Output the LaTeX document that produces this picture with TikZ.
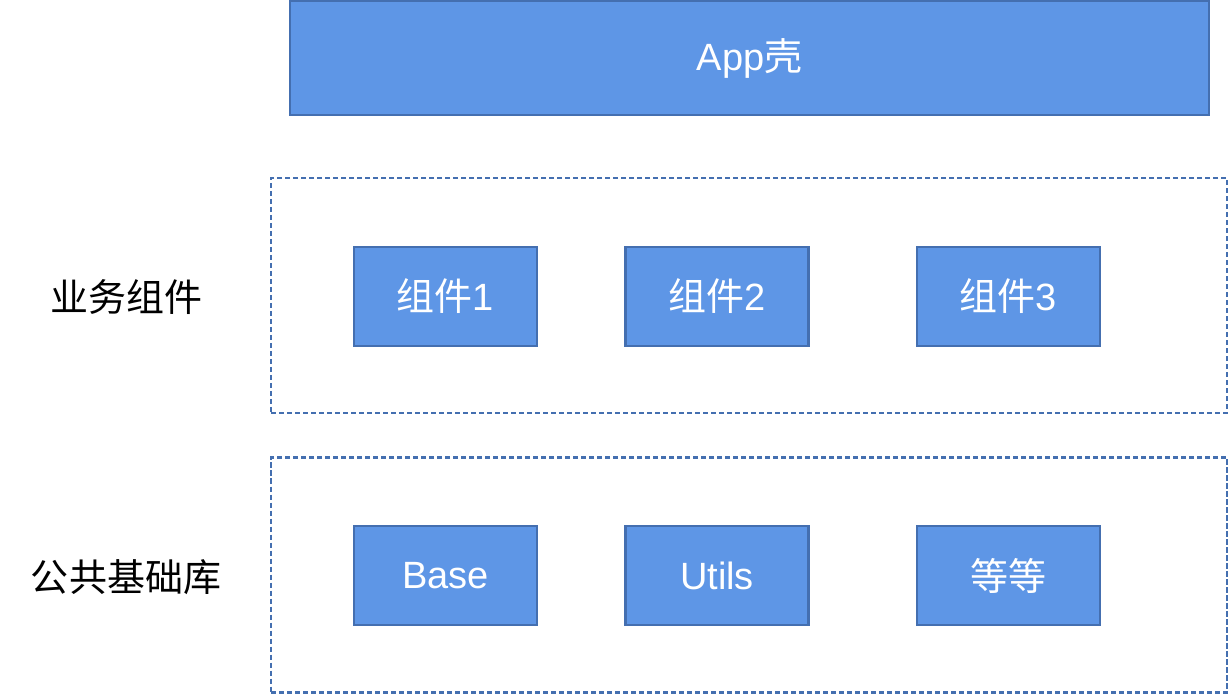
\documentclass[tikz,border=0pt]{standalone}
\usepackage{fontspec}
\setmainfont{Liberation Sans}
\newfontfamily\cjk{Noto Sans CJK SC}
\definecolor{boxfill}{RGB}{94,150,230}
\definecolor{boxline}{RGB}{68,111,176}
\begin{document}
\begin{tikzpicture}[x=0.5pt, y=-0.5pt,
  block/.style={draw=boxline, fill=boxfill, line width=1.1pt, text=white,
    font=\fontsize{19}{21}\selectfont, minimum width=91.5pt, minimum height=49.5pt},
  layer/.style={draw=boxline, line width=1.1pt, dash pattern=on 2.6pt off 1.4pt,
    minimum width=478pt, minimum height=117.5pt},
  side/.style={font=\fontsize{19}{21}\selectfont}]
  \useasboundingbox (0,0) rectangle (1230,695);

  % 顶层
  \node[block, minimum width=459.5pt, minimum height=57pt] (app) at (749.5,58) {App{\cjk 壳}};

  % 业务组件层
  \node[layer] (bizlayer) at (749,295.5) {};
  \node[side] (bizlabel) at (126,297) {\cjk 业务组件};
  \node[block] (comp1) at (445.5,296.5) {{\cjk 组件}1};
  \node[block] (comp2) at (717,296.5) {{\cjk 组件}2};
  \node[block] (comp3) at (1008.5,296.5) {{\cjk 组件}3};

  % 公共基础库层
  \node[layer] (baselayer) at (749,575) {};
  \node[side] (baselabel) at (126,577) {\cjk 公共基础库};
  \node[block] (base) at (445.5,575.5) {Base};
  \node[block] (utils) at (717,575.5) {Utils};
  \node[block] (etc) at (1008.5,575.5) {\cjk 等等};

\end{tikzpicture}
\end{document}
